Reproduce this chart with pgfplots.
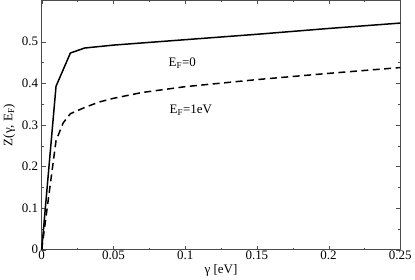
\documentclass[border=0pt]{standalone}
\usepackage{fontspec}
\setmainfont{Liberation Serif}
\usepackage{pgfplots}
\pgfplotsset{compat=1.18}
\begin{document}
\begin{tikzpicture}
\begin{axis}[
  scale only axis,
  width=358bp, height=249bp,
  xmin=0, xmax=0.25, ymin=0, ymax=0.6,
  xtick={0,0.05,0.1,0.15,0.2,0.25},
  xticklabels={0,0.05,0.1,0.15,0.2,0.25},
  ytick={0,0.1,0.2,0.3,0.4,0.5},
  yticklabels={0,0.1,0.2,0.3,0.4,0.5},
  /pgf/number format/assume math mode=true,
  minor x tick num=1, minor y tick num=1,
  tick align=inside,
  major tick length=4bp, minor tick length=2bp,
  axis line style={draw=black!70},
  tick style={black!70},
  every tick label/.append style={font=\fontsize{13}{14}\selectfont},
  xticklabel style={yshift=2bp},
  yticklabel style={xshift=0bp},
  xlabel={γ [eV]}, ylabel={Z(γ, E\textsubscript{F})},
  label style={font=\fontsize{13}{14}\selectfont},
  xlabel style={yshift=2bp},
  ylabel style={yshift=0bp},
  clip=false,
]
\addplot[black, line width=1.5pt] coordinates {
(0,0) (0.01,0.393) (0.02,0.473) (0.03,0.485) (0.05,0.492) (0.1,0.505) (0.15,0.518) (0.2,0.532) (0.25,0.545)
};
\addplot[black, line width=1.5pt, dash pattern=on 7pt off 4.5pt] coordinates {
(0,0) (0.01,0.262) (0.015,0.305) (0.02,0.327) (0.03,0.342) (0.04,0.355) (0.05,0.364) (0.07,0.378) (0.1,0.392) (0.15,0.409) (0.2,0.424) (0.25,0.438)
};
\node[font=\fontsize{13}{14}\selectfont] at (axis cs:0.098,0.448) {E\textsubscript{F}=0};
\node[font=\fontsize{13}{14}\selectfont] at (axis cs:0.104,0.336) {E\textsubscript{F}=1eV};
\end{axis}
\end{tikzpicture}
\end{document}
